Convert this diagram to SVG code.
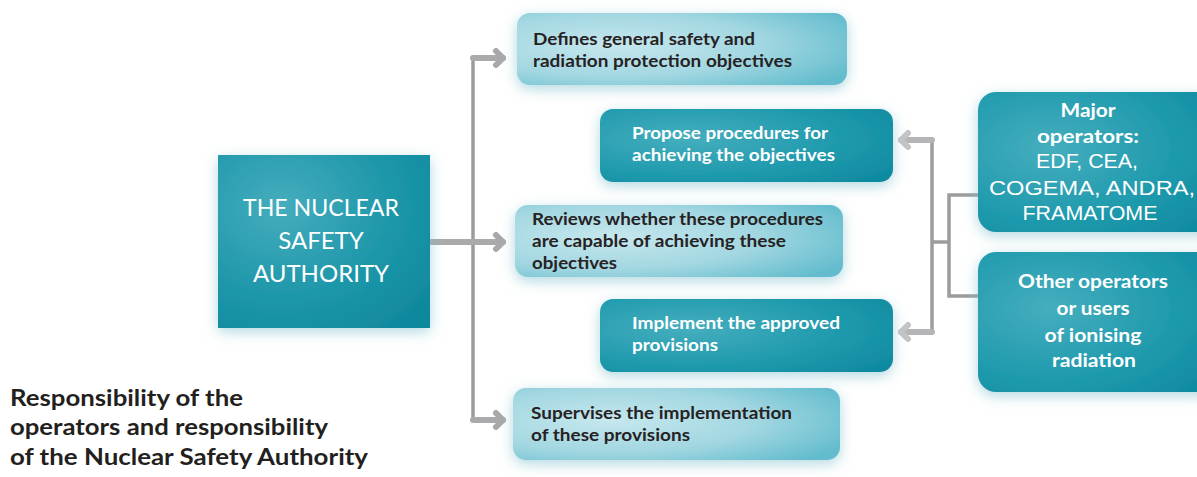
<svg xmlns="http://www.w3.org/2000/svg" width="1197" height="477" viewBox="0 0 1197 477">
  <defs>
    <style>
      .lt { font-family: Lato, "Open Sans", "Liberation Sans", sans-serif; font-weight: 700; font-size: 17px; fill: #262223; }
      .dk { font-family: Lato, "Open Sans", "Liberation Sans", sans-serif; font-weight: 700; font-size: 17px; fill: #ffffff; }
      .main { font-family: Lato, "Open Sans", "Liberation Sans", sans-serif; font-weight: 400; font-size: 24px; fill: #ffffff; }
      .opb { font-family: Lato, "Open Sans", "Liberation Sans", sans-serif; font-weight: 700; font-size: 19px; fill: #ffffff; }
      .opr { font-family: "Liberation Sans", Arial, sans-serif; font-weight: 400; font-size: 21px; fill: #ffffff; }
      .cap { font-family: Lato, "Open Sans", "Liberation Sans", sans-serif; font-weight: 700; font-size: 22px; fill: #231f20; }
      .thin { fill: none; stroke: #9c9c9e; stroke-width: 3.5; }
      .shaft { fill: none; stroke: #aaaaac; stroke-width: 6; stroke-linecap: round; }
      .shaftR { fill: none; stroke: #b5b5b7; stroke-width: 6; stroke-linecap: round; }
    </style>
    <radialGradient id="lightFill" cx="0.3" cy="0.45" r="0.8">
      <stop offset="0" stop-color="#c6e7ee"/>
      <stop offset="0.55" stop-color="#a2d7e1"/>
      <stop offset="1" stop-color="#63bccd"/>
    </radialGradient>
    <radialGradient id="darkFill" cx="0.3" cy="0.4" r="0.85">
      <stop offset="0" stop-color="#45aebe"/>
      <stop offset="0.6" stop-color="#1f9aad"/>
      <stop offset="1" stop-color="#0f8aa0"/>
    </radialGradient>
    <radialGradient id="mainFill" cx="0.3" cy="0.3" r="0.9">
      <stop offset="0" stop-color="#45adbd"/>
      <stop offset="0.6" stop-color="#1c96a9"/>
      <stop offset="1" stop-color="#0f889d"/>
    </radialGradient>
    <filter id="glow" x="-15%" y="-35%" width="130%" height="180%">
      <feDropShadow dx="0" dy="4" stdDeviation="7" flood-color="#7fbfcc" flood-opacity="0.6"/>
    </filter>
    <marker id="head" markerUnits="userSpaceOnUse" markerWidth="24" markerHeight="24" viewBox="-12 -12 24 24" refX="0" refY="0" orient="auto">
      <path d="M-7,-7 L0,0 L-7,7" fill="none" stroke="#a8a8aa" stroke-width="6" stroke-linecap="round" stroke-linejoin="round"/>
    </marker>
    <marker id="headR" markerUnits="userSpaceOnUse" markerWidth="24" markerHeight="24" viewBox="-12 -12 24 24" refX="0" refY="0" orient="auto">
      <path d="M-7,-7 L0,0 L-7,7" fill="none" stroke="#c4c4c6" stroke-width="6" stroke-linecap="round" stroke-linejoin="round"/>
    </marker>
  </defs>

  <rect width="1197" height="477" fill="#ffffff"/>

  <!-- connectors -->
  <g id="connectors">
    <path class="thin" d="M473,58 V420"/>
    <path class="shaft" d="M473,58 H503" marker-end="url(#head)"/>
    <path class="shaft" d="M430,242 H503" marker-end="url(#head)"/>
    <path class="shaft" d="M473,420 H503" marker-end="url(#head)"/>
    <path class="thin" d="M932,140 V332"/>
    <path class="thin" d="M932,242 H949"/>
    <path class="thin" d="M980,195 H949 V296 H980"/>
    <path class="shaftR" d="M932,140 H901" marker-end="url(#headR)"/>
    <path class="shaftR" d="M932,332 H901" marker-end="url(#headR)"/>
  </g>

  <!-- authority -->
  <g id="authority">
    <rect x="218" y="155" width="212" height="173" fill="url(#mainFill)" filter="url(#glow)"/>
    <text class="main" text-anchor="middle" x="321" y="216" textLength="156" lengthAdjust="spacingAndGlyphs">THE NUCLEAR</text>
    <text class="main" text-anchor="middle" x="321" y="249">SAFETY</text>
    <text class="main" text-anchor="middle" x="321" y="282">AUTHORITY</text>
  </g>

  <g id="defines">
    <rect x="517" y="13" width="330" height="72" rx="13" fill="url(#lightFill)" filter="url(#glow)"/>
    <text class="lt" x="533" y="45" textLength="222" lengthAdjust="spacingAndGlyphs">Defines general safety and</text>
    <text class="lt" x="533" y="67" textLength="259" lengthAdjust="spacingAndGlyphs">radiation protection objectives</text>
  </g>

  <g id="propose">
    <rect x="600" y="109" width="293" height="73" rx="13" fill="url(#darkFill)" filter="url(#glow)"/>
    <text class="dk" x="632" y="139" textLength="196" lengthAdjust="spacingAndGlyphs">Propose procedures for</text>
    <text class="dk" x="632" y="161" textLength="203" lengthAdjust="spacingAndGlyphs">achieving the objectives</text>
  </g>

  <g id="reviews">
    <rect x="515" y="205" width="328" height="72" rx="13" fill="url(#lightFill)" filter="url(#glow)"/>
    <text class="lt" x="532" y="225" textLength="291" lengthAdjust="spacingAndGlyphs">Reviews whether these procedures</text>
    <text class="lt" x="532" y="247" textLength="254" lengthAdjust="spacingAndGlyphs">are capable of achieving these</text>
    <text class="lt" x="532" y="269" textLength="85" lengthAdjust="spacingAndGlyphs">objectives</text>
  </g>

  <g id="implement">
    <rect x="600" y="299" width="293" height="73" rx="13" fill="url(#darkFill)" filter="url(#glow)"/>
    <text class="dk" x="632" y="329" textLength="208" lengthAdjust="spacingAndGlyphs">Implement the approved</text>
    <text class="dk" x="632" y="351" textLength="86" lengthAdjust="spacingAndGlyphs">provisions</text>
  </g>

  <g id="supervises">
    <rect x="513" y="388" width="327" height="72" rx="13" fill="url(#lightFill)" filter="url(#glow)"/>
    <text class="lt" x="531" y="419" textLength="261" lengthAdjust="spacingAndGlyphs">Supervises the implementation</text>
    <text class="lt" x="531" y="441" textLength="159" lengthAdjust="spacingAndGlyphs">of these provisions</text>
  </g>

  <g id="major-operators">
    <rect x="978" y="92" width="240" height="140" rx="18" fill="url(#darkFill)" filter="url(#glow)"/>
    <text class="opb" text-anchor="middle" x="1088" y="117" textLength="55" lengthAdjust="spacingAndGlyphs">Major</text>
    <text class="opb" text-anchor="middle" x="1088" y="143" textLength="102" lengthAdjust="spacingAndGlyphs">operators:</text>
    <text class="opr" text-anchor="middle" x="1087" y="168" textLength="102" lengthAdjust="spacingAndGlyphs">EDF, CEA,</text>
    <text class="opr" text-anchor="middle" x="1092" y="195" textLength="206" lengthAdjust="spacingAndGlyphs">COGEMA, ANDRA,</text>
    <text class="opr" text-anchor="middle" x="1090" y="220" textLength="135" lengthAdjust="spacingAndGlyphs">FRAMATOME</text>
  </g>

  <g id="other-operators">
    <rect x="978" y="252" width="240" height="140" rx="18" fill="url(#darkFill)" filter="url(#glow)"/>
    <text class="opb" text-anchor="middle" x="1093" y="288" textLength="150" lengthAdjust="spacingAndGlyphs">Other operators</text>
    <text class="opb" text-anchor="middle" x="1093" y="315" textLength="73" lengthAdjust="spacingAndGlyphs">or users</text>
    <text class="opb" text-anchor="middle" x="1093" y="342" textLength="97" lengthAdjust="spacingAndGlyphs">of ionising</text>
    <text class="opb" text-anchor="middle" x="1094" y="367" textLength="84" lengthAdjust="spacingAndGlyphs">radiation</text>
  </g>

  <g id="caption">
    <text class="cap" x="10" y="406" textLength="233" lengthAdjust="spacingAndGlyphs">Responsibility of the</text>
    <text class="cap" x="10" y="435" textLength="318" lengthAdjust="spacingAndGlyphs">operators and responsibility</text>
    <text class="cap" x="10" y="465" textLength="358" lengthAdjust="spacingAndGlyphs">of the Nuclear Safety Authority</text>
  </g>
</svg>
